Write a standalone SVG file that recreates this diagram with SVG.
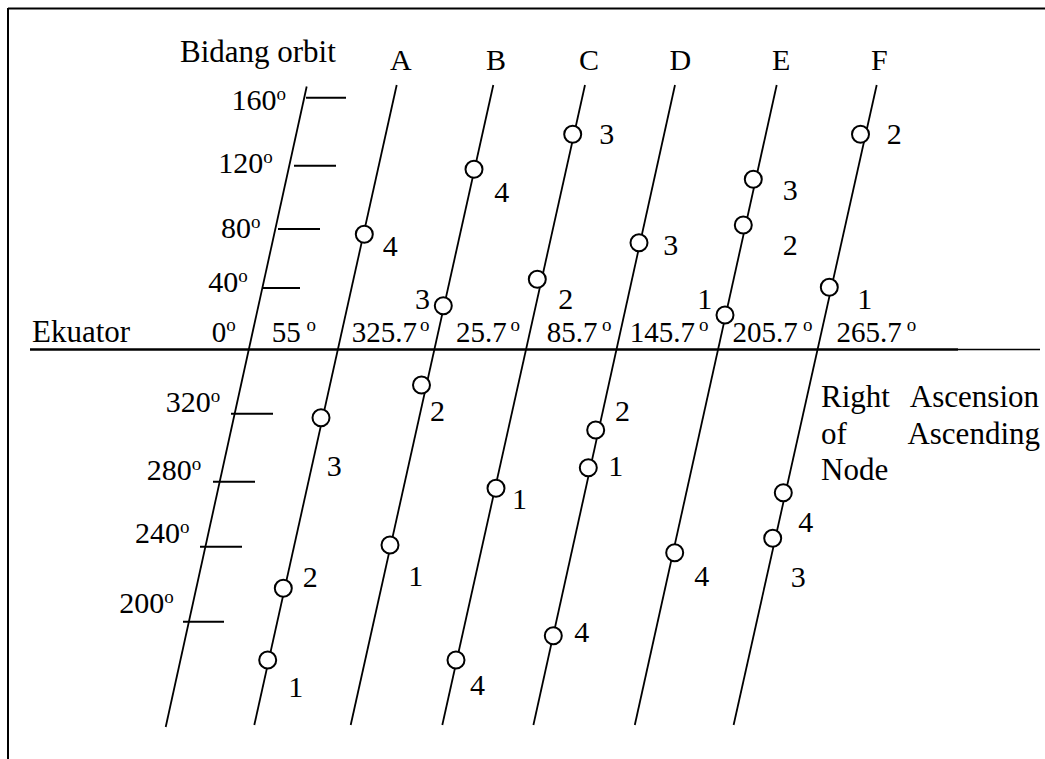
<svg xmlns="http://www.w3.org/2000/svg" width="1045" height="759" viewBox="0 0 1045 759">
<style>
text{font-family:"Liberation Serif","Times New Roman",serif;fill:#000}
.w{font-size:31px}
.n{font-size:30px}
.e{font-size:29px}
.sup{font-size:19px}
.ln{stroke:#000;stroke-width:1.8;fill:none}
.tk{stroke:#000;stroke-width:2;fill:none}
.c{fill:#fff;stroke:#000;stroke-width:2}
</style>
<rect width="1045" height="759" fill="#fff"/>
<g id="frame" class="tk">
<line x1="8" y1="8.5" x2="1045" y2="8.5"/>
<line x1="8" y1="8" x2="8" y2="759"/>
</g>
<g id="ruler">
<text class="w" x="180" y="62">Bidang orbit</text>
<line class="ln" x1="306.7" y1="86.5" x2="165.7" y2="727"/>
<g class="tk">
<line x1="306" y1="97.7" x2="346" y2="97.7"/>
<line x1="294" y1="165.7" x2="336" y2="165.7"/>
<line x1="278" y1="229" x2="320" y2="229"/>
<line x1="262" y1="288" x2="300" y2="288"/>
<line x1="231" y1="413.7" x2="273" y2="413.7"/>
<line x1="213" y1="481.7" x2="255" y2="481.7"/>
<line x1="200" y1="546.7" x2="242" y2="546.7"/>
<line x1="183" y1="621.7" x2="224" y2="621.7"/>
</g>
<text class="n" x="231.5" y="110">160<tspan class="sup" dy="-10">o</tspan></text>
<text class="n" x="218.3" y="172.5">120<tspan class="sup" dy="-10">o</tspan></text>
<text class="n" x="221" y="238">80<tspan class="sup" dy="-10">o</tspan></text>
<text class="n" x="208.3" y="292">40<tspan class="sup" dy="-10">o</tspan></text>
<text class="n" x="165.7" y="411.7">320<tspan class="sup" dy="-10">o</tspan></text>
<text class="n" x="146.7" y="480">280<tspan class="sup" dy="-10">o</tspan></text>
<text class="n" x="135" y="543.3">240<tspan class="sup" dy="-10">o</tspan></text>
<text class="n" x="119.3" y="612.7">200<tspan class="sup" dy="-10">o</tspan></text>
</g>
<g id="equator">
<line x1="30" y1="349.5" x2="958" y2="349.5" stroke="#000" stroke-width="2.5"/>
<line x1="958" y1="349.5" x2="1040" y2="349.5" stroke="#000" stroke-width="1.6"/>
<text class="w" x="32" y="342">Ekuator</text>
<text class="e" x="211.7" y="342">0<tspan class="sup" dy="-11">o</tspan></text>
<text class="e" x="271.7" y="342">55</text><text class="sup" x="306.5" y="331">o</text>
<text class="e" x="351.7" y="342">325.7</text><text class="sup" x="420" y="331">o</text>
<text class="e" x="456" y="342">25.7</text><text class="sup" x="510.5" y="331">o</text>
<text class="e" x="546.8" y="342">85.7</text><text class="sup" x="602" y="331">o</text>
<text class="e" x="629.8" y="342">145.7</text><text class="sup" x="699" y="331">o</text>
<text class="e" x="732.6" y="342">205.7</text><text class="sup" x="803" y="331">o</text>
<text class="e" x="836.4" y="342">265.7</text><text class="sup" x="906.7" y="331">o</text>
</g>
<g id="planeA">
<text class="n" x="390" y="70">A</text>
<line class="ln" x1="396.7" y1="85" x2="254.3" y2="725"/>
<circle class="c" cx="364.3" cy="234.3" r="8.5"/><text class="n" x="382.7" y="256">4</text>
<circle class="c" cx="321" cy="417.7" r="8.5"/><text class="n" x="326.7" y="476">3</text>
<circle class="c" cx="283.3" cy="588.3" r="8.5"/><text class="n" x="302.7" y="586.7">2</text>
<circle class="c" cx="267.7" cy="660" r="8.5"/><text class="n" x="288.3" y="696.7">1</text>
</g>
<g id="planeB">
<text class="n" x="486" y="70">B</text>
<line class="ln" x1="493.3" y1="85" x2="350.7" y2="725"/>
<circle class="c" cx="474" cy="169.3" r="8.5"/><text class="n" x="494.3" y="201.7">4</text>
<circle class="c" cx="443.3" cy="305.7" r="8.5"/><text class="n" x="415" y="308.5">3</text>
<circle class="c" cx="421.5" cy="385" r="8.5"/><text class="n" x="430" y="420.7">2</text>
<circle class="c" cx="390" cy="545" r="8.5"/><text class="n" x="408.3" y="586">1</text>
</g>
<g id="planeC">
<text class="n" x="579" y="70">C</text>
<line class="ln" x1="585" y1="85" x2="442.3" y2="725"/>
<circle class="c" cx="572.7" cy="134.3" r="8.5"/><text class="n" x="599.3" y="144.3">3</text>
<circle class="c" cx="537.3" cy="279.3" r="8.5"/><text class="n" x="558.3" y="309">2</text>
<circle class="c" cx="496" cy="488.3" r="8.5"/><text class="n" x="512" y="509">1</text>
<circle class="c" cx="456" cy="660" r="8.5"/><text class="n" x="470" y="695">4</text>
</g>
<g id="planeD">
<text class="n" x="669.4" y="70">D</text>
<line class="ln" x1="675" y1="85" x2="533.4" y2="725"/>
<circle class="c" cx="639" cy="242.7" r="8.5"/><text class="n" x="663.3" y="255">3</text>
<circle class="c" cx="595.7" cy="430" r="8.5"/><text class="n" x="615" y="420.7">2</text>
<circle class="c" cx="588.3" cy="467.7" r="8.5"/><text class="n" x="608.3" y="476">1</text>
<circle class="c" cx="553.3" cy="635.7" r="8.5"/><text class="n" x="574.3" y="641.7">4</text>
</g>
<g id="planeE">
<text class="n" x="772" y="70">E</text>
<line class="ln" x1="776.7" y1="85" x2="634.8" y2="725"/>
<circle class="c" cx="753.3" cy="179.3" r="8.5"/><text class="n" x="782.7" y="200">3</text>
<circle class="c" cx="743.3" cy="225" r="8.5"/><text class="n" x="782.7" y="255">2</text>
<circle class="c" cx="725" cy="315" r="8.5"/><text class="n" x="697.3" y="308.5">1</text>
<circle class="c" cx="674.7" cy="552.7" r="8.5"/><text class="n" x="694.3" y="586">4</text>
</g>
<g id="planeF">
<text class="n" x="871" y="70">F</text>
<line class="ln" x1="876.7" y1="85" x2="733.6" y2="725"/>
<circle class="c" cx="860.5" cy="134.3" r="8.5"/><text class="n" x="886.7" y="144.3">2</text>
<circle class="c" cx="829.3" cy="287.3" r="8.5"/><text class="n" x="857.3" y="309">1</text>
<circle class="c" cx="783.3" cy="492.7" r="8.5"/><text class="n" x="798.3" y="531.7">4</text>
<circle class="c" cx="772.7" cy="538.3" r="8.5"/><text class="n" x="790.7" y="586.7">3</text>
</g>
<g id="caption">
<text class="w" x="821" y="407">Right</text>
<text class="w" x="1039" y="407" text-anchor="end">Ascension</text>
<text class="w" x="821" y="444">of</text>
<text class="w" x="1040" y="444" text-anchor="end">Ascending</text>
<text class="w" x="821" y="480">Node</text>
</g>
</svg>
